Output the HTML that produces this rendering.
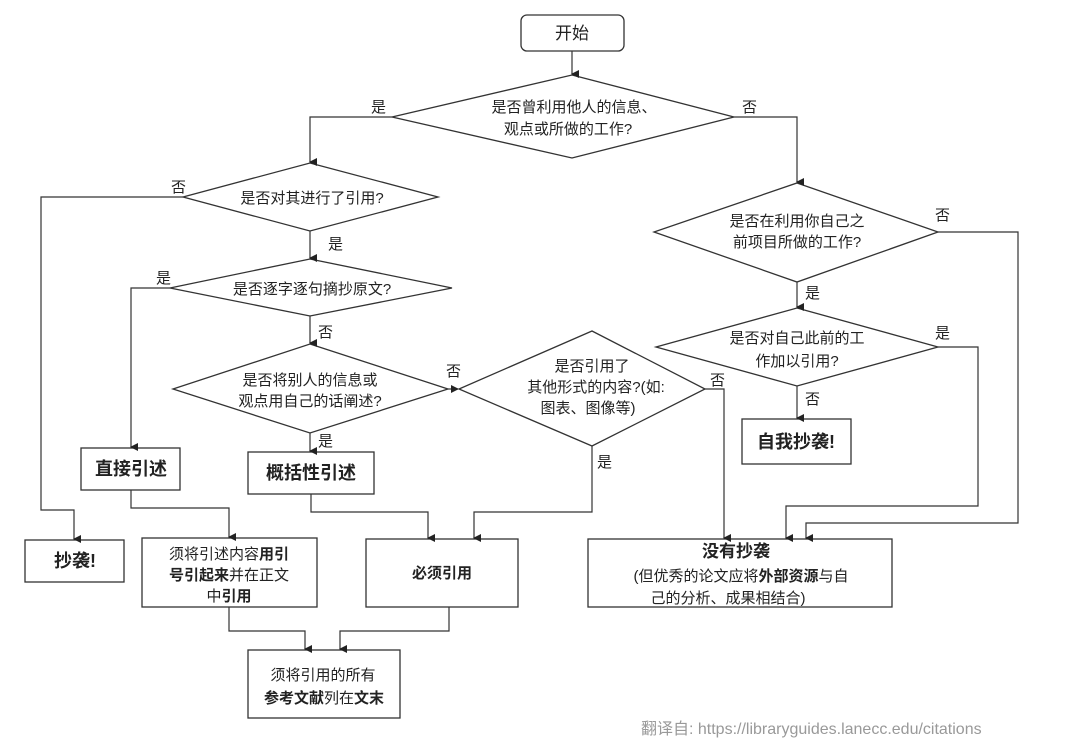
<!DOCTYPE html>
<html><head><meta charset="utf-8"><style>
html,body{margin:0;padding:0;background:#fff;}
svg{display:block;}
text{font-family:"Liberation Sans","Noto Sans CJK SC",sans-serif;fill:#222;}
.t{font-size:15px;text-anchor:middle;}
.l{font-size:15px;}
.b{font-weight:bold;}
</style></head><body>
<svg width="1080" height="746" viewBox="0 0 1080 746" xmlns="http://www.w3.org/2000/svg">
<defs><marker id="a" markerWidth="8" markerHeight="8" refX="4" refY="7" orient="auto" markerUnits="userSpaceOnUse"><path d="M0,0 L8,0 L4,8 Z" transform="rotate(0)" fill="#222"/></marker>
<marker id="ar" markerWidth="8" markerHeight="8" refX="7" refY="4" orient="0" markerUnits="userSpaceOnUse"><path d="M0,0 L8,4 L0,8 Z" fill="#222"/></marker></defs>
<g fill="none" stroke="#333" stroke-width="1.3">
<rect x="521" y="15" width="103" height="36" rx="6" fill="#fff"/>
<polygon points="572,75 734,117 572,158 392,117" fill="#fff"/>
<polygon points="310,163 438,197 310,231 183,197" fill="#fff"/>
<polygon points="310,259 452,288 310,316 170,288" fill="#fff"/>
<polygon points="310,344 448,389 310,433 173,389" fill="#fff"/>
<polygon points="592,331 705,389 592,446 459,389" fill="#fff"/>
<polygon points="797,183 938,232 797,282 654,232" fill="#fff"/>
<polygon points="797,308 938,347 797,386 656,347" fill="#fff"/>
<rect x="81" y="448" width="99" height="42"/>
<rect x="248" y="452" width="126" height="42"/>
<rect x="25" y="540" width="99" height="42"/>
<rect x="142" y="538" width="175" height="69"/>
<rect x="366" y="539" width="152" height="68"/>
<rect x="248" y="650" width="152" height="68"/>
<rect x="742" y="419" width="109" height="45"/>
<rect x="588" y="539" width="304" height="68"/>
</g>
<g fill="none" stroke="#333" stroke-width="1.2">
<path d="M572,51 V74" marker-end="url(#a)"/>
<path d="M392,117 H310 V162" marker-end="url(#a)"/>
<path d="M734,117 H797 V182" marker-end="url(#a)"/>
<path d="M183,197 H41 V510 H74 V539" marker-end="url(#a)"/>
<path d="M310,231 V258" marker-end="url(#a)"/>
<path d="M170,288 H131 V447" marker-end="url(#a)"/>
<path d="M310,316 V343" marker-end="url(#a)"/>
<path d="M310,433 V451" marker-end="url(#a)"/>
<path d="M448,389 H458" marker-end="url(#ar)"/>
<path d="M705,389 H724 V538" marker-end="url(#a)"/>
<path d="M592,446 V512 H474 V538" marker-end="url(#a)"/>
<path d="M131,490 V508 H229 V537" marker-end="url(#a)"/>
<path d="M311,494 V512 H428 V538" marker-end="url(#a)"/>
<path d="M229,607 V631 H305 V649" marker-end="url(#a)"/>
<path d="M449,607 V631 H340 V649" marker-end="url(#a)"/>
<path d="M938,232 H1018 V523 H806 V538" marker-end="url(#a)"/>
<path d="M797,282 V307" marker-end="url(#a)"/>
<path d="M938,347 H978 V506 H786 V538" marker-end="url(#a)"/>
<path d="M797,386 V418" marker-end="url(#a)"/>
</g>
<text class="t" x="572" y="39" style="font-size:17px">开始</text>
<text class="t" x="574" y="112">是否曾利用他人的信息、</text>
<text class="t" x="568" y="134">观点或所做的工作?</text>
<text class="t" x="312" y="203">是否对其进行了引用?</text>
<text class="t" x="312" y="294">是否逐字逐句摘抄原文?</text>
<text class="t" x="310" y="385">是否将别人的信息或</text>
<text class="t" x="310" y="406">观点用自己的话阐述?</text>
<text class="t" x="592" y="371">是否引用了</text>
<text class="t" x="596" y="392">其他形式的内容?(如:</text>
<text class="t" x="588" y="413">图表、图像等)</text>
<text class="t" x="797" y="226">是否在利用你自己之</text>
<text class="t" x="797" y="247">前项目所做的工作?</text>
<text class="t" x="797" y="343">是否对自己此前的工</text>
<text class="t" x="797" y="366">作加以引用?</text>
<text class="t b" x="131" y="475" style="font-size:18px">直接引述</text>
<text class="t b" x="311" y="479" style="font-size:18px">概括性引述</text>
<text class="t b" x="75" y="567" style="font-size:18px">抄袭!</text>
<text class="t b" x="796" y="448" style="font-size:18px">自我抄袭!</text>
<text class="t" x="229" y="559">须将引述内容<tspan class="b">用引</tspan></text>
<text class="t" x="229" y="580"><tspan class="b">号引起来</tspan>并在正文</text>
<text class="t" x="229" y="601">中<tspan class="b">引用</tspan></text>
<text class="t b" x="442" y="578">必须引用</text>
<text class="t" x="323" y="680">须将引用的所有</text>
<text class="t" x="324" y="703"><tspan class="b">参考文献</tspan>列在<tspan class="b">文末</tspan></text>
<text class="t b" x="736" y="557" style="font-size:17px">没有抄袭</text>
<text class="t" x="741" y="581">(但优秀的论文应将<tspan class="b">外部资源</tspan>与自</text>
<text class="t" x="728" y="603">己的分析、成果相结合)</text>
<text class="l" x="371" y="112">是</text>
<text class="l" x="742" y="112">否</text>
<text class="l" x="171" y="192">否</text>
<text class="l" x="328" y="249">是</text>
<text class="l" x="156" y="283">是</text>
<text class="l" x="318" y="337">否</text>
<text class="l" x="446" y="376">否</text>
<text class="l" x="318" y="446">是</text>
<text class="l" x="710" y="385">否</text>
<text class="l" x="597" y="467">是</text>
<text class="l" x="935" y="220">否</text>
<text class="l" x="805" y="298">是</text>
<text class="l" x="935" y="338">是</text>
<text class="l" x="805" y="404">否</text>
<text x="641" y="734" style="font-size:16px;fill:#999">翻译自: https://libraryguides.lanecc.edu/citations</text>
</svg>
</body></html>
